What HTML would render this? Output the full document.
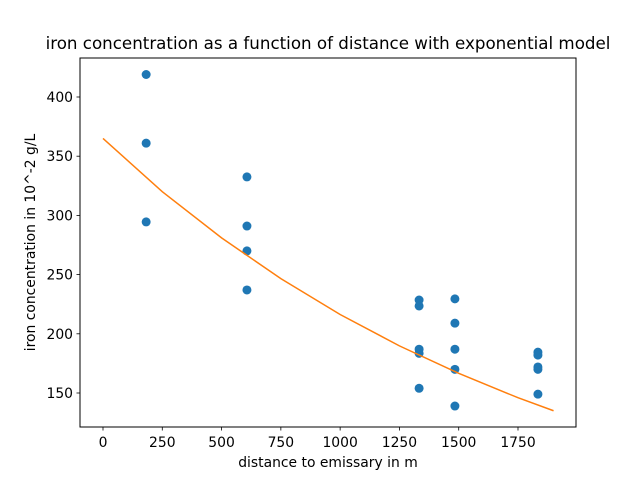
<!DOCTYPE html>
<html><head><meta charset="utf-8"><style>
body{margin:0;background:#fff;}
svg text{font-family:"DejaVu Sans","Liberation Sans",sans-serif;fill:#000;}
</style></head><body>
<svg id="chart" width="640" height="480" xmlns="http://www.w3.org/2000/svg">
<rect width="640" height="480" fill="#fff"/>
<text x="328" y="49" font-size="16.7" text-anchor="middle">iron concentration as a function of distance with exponential model</text>
<g id="grid"></g>
<g id="marks"></g>
<rect x="80" y="58" width="496" height="369" fill="none" stroke="#000" stroke-width="1"/>
<text x="328" y="467" font-size="13.9" text-anchor="middle">distance to emissary in m</text>
<text transform="translate(35,242.5) rotate(-90)" font-size="13.9" text-anchor="middle">iron concentration in 10^-2 g/L</text>
</svg>
<script>
const pointX=[182,182,182,607,607,607,607,1333,1333,1333,1333,1333,1484,1484,1484,1484,1484,1834,1834,1834,1834,1834];
const pointY=[419,361,294.5,332.5,291,270,237,228.5,223.5,187,183.5,154,229.5,209,187,170,139,184.5,182,172,170,149];
const modelX=[0,250,500,750,1000,1250,1500,1750,1900];
const modelY=[365,320,281,246.6,216.3,189.8,166.6,146,135];
const xTicks=[0,250,500,750,1000,1250,1500,1750];
const yTicks=[150,200,250,300,350,400];
const NS="http://www.w3.org/2000/svg";
function sx(v){return 103+v*0.23714;}
function sy(v){return 97+(400-v)*1.184;}
const g=document.getElementById('grid'),m=document.getElementById('marks');
function mk(tag,attrs,parent){const e=document.createElementNS(NS,tag);for(const k in attrs)e.setAttribute(k,attrs[k]);parent.appendChild(e);return e;}
xTicks.forEach(t=>{
 const l=mk('line',{x1:sx(t),x2:sx(t),y1:427,y2:430.5,stroke:'#000','stroke-width':0.8},g);
 
 
 const tx=mk('text',{x:sx(t),y:447,'font-size':13.9,'text-anchor':'middle'},g);tx.textContent=t;
 
 
});
yTicks.forEach(t=>{
 const l=mk('line',{x1:76.5,x2:80,y1:sy(t),y2:sy(t),stroke:'#000','stroke-width':0.8},g);
 
 
 const tx=mk('text',{x:73,y:sy(t)+5,'font-size':13.9,'text-anchor':'end'},g);tx.textContent=t;
 
 
});
pointX.forEach((x,i)=>{
 const c=mk('circle',{cx:sx(x),cy:sy(pointY[i]),r:4.5,fill:'#1f77b4'},m);
 
 
});
const pl=mk('polyline',{points:modelX.map((x,i)=>sx(x)+','+sy(modelY[i])).join(' '),fill:'none',stroke:'#ff7f0e','stroke-width':1.5},m);


</script>
</body></html>
